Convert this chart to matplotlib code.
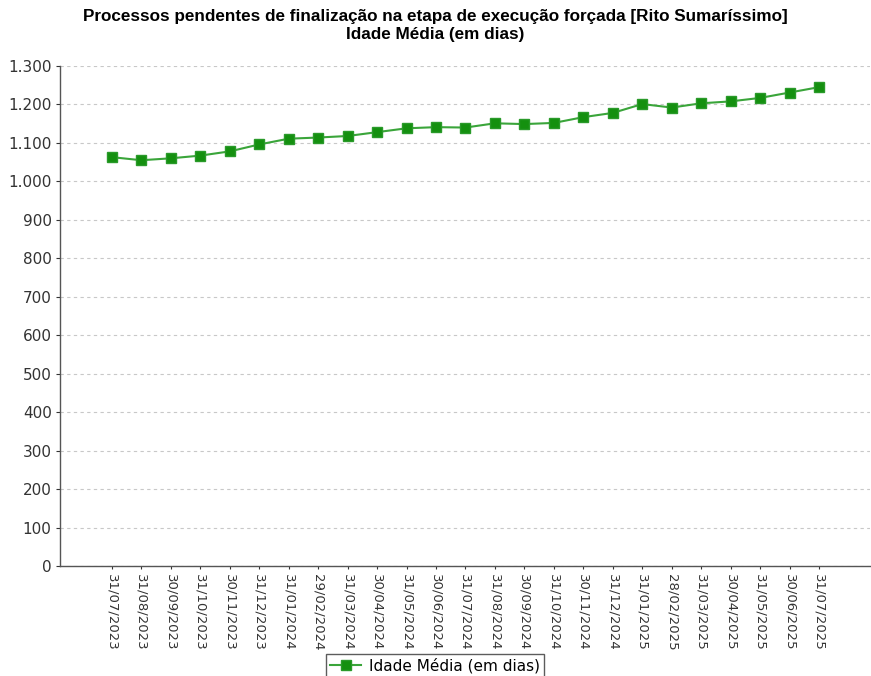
import matplotlib
matplotlib.use("Agg")
import matplotlib.pyplot as plt
from matplotlib.ticker import FuncFormatter

dates = ["31/07/2023", "31/08/2023", "30/09/2023", "31/10/2023", "30/11/2023",
         "31/12/2023", "31/01/2024", "29/02/2024", "31/03/2024", "30/04/2024",
         "31/05/2024", "30/06/2024", "31/07/2024", "31/08/2024", "30/09/2024",
         "31/10/2024", "30/11/2024", "31/12/2024", "31/01/2025", "28/02/2025",
         "31/03/2025", "30/04/2025", "31/05/2025", "30/06/2025", "31/07/2025"]
idade_media = [1063, 1055, 1060, 1067, 1078, 1096, 1111, 1114, 1118, 1128,
               1138, 1141, 1140, 1151, 1149, 1152, 1167, 1178, 1201, 1192,
               1203, 1208, 1217, 1231, 1245]
y_ticks = list(range(0, 1301, 100))

fig = plt.figure(figsize=(8.71, 6.76), dpi=100)
ax = fig.add_axes([60/871, 1-566/676, 810/871, 500/676])

x = list(range(len(dates)))
ax.plot(x, idade_media, color="#3aa53a", linewidth=1.5, marker="s",
        markersize=7.5, markerfacecolor="#14900f", markeredgecolor="#2a9a2a",
        label="Idade Média (em dias)", zorder=3)

ax.set_ylim(0, 1300)
ax.set_xlim(-1.76, 25.73)
ax.set_yticks(y_ticks)
ax.yaxis.set_major_formatter(FuncFormatter(lambda v, p: f"{int(v):,}".replace(",", ".")))
ax.set_xticks(x)
ax.set_xticklabels(dates, rotation=-90, fontsize=9.5, color="#333333")
ax.tick_params(axis="y", labelsize=11, colors="#333333", length=3, width=0.8, pad=3)
ax.tick_params(axis="x", length=2.5, width=0.8, colors="#333333")
for lab in ax.get_yticklabels():
    lab.set_color("#333333")

ax.grid(axis="y", linestyle=(0, (3, 3)), color="#c8c8c8", linewidth=0.8)
ax.set_axisbelow(True)
for s in ["top", "right"]:
    ax.spines[s].set_visible(False)
for s in ["left", "bottom"]:
    ax.spines[s].set_color("#555555")
    ax.spines[s].set_linewidth(1.0)

fig.text(0.5, 1-16/676, "Processos pendentes de finalização na etapa de execução forçada [Rito Sumaríssimo]",
         ha="center", va="center", fontsize=12.3, fontweight="bold", family="Liberation Sans")
fig.text(0.5, 1-34/676, "Idade Média (em dias)",
         ha="center", va="center", fontsize=12.3, fontweight="bold", family="Liberation Sans")

leg = fig.legend(loc="center", bbox_to_anchor=(435/871, 1-666/676), fontsize=11,
                 frameon=True, fancybox=False, edgecolor="#333333",
                 handlelength=2, borderpad=0.3, handletextpad=0.5)
leg.get_frame().set_linewidth(1.0)

fig.savefig("out.png", dpi=100, facecolor="white")
